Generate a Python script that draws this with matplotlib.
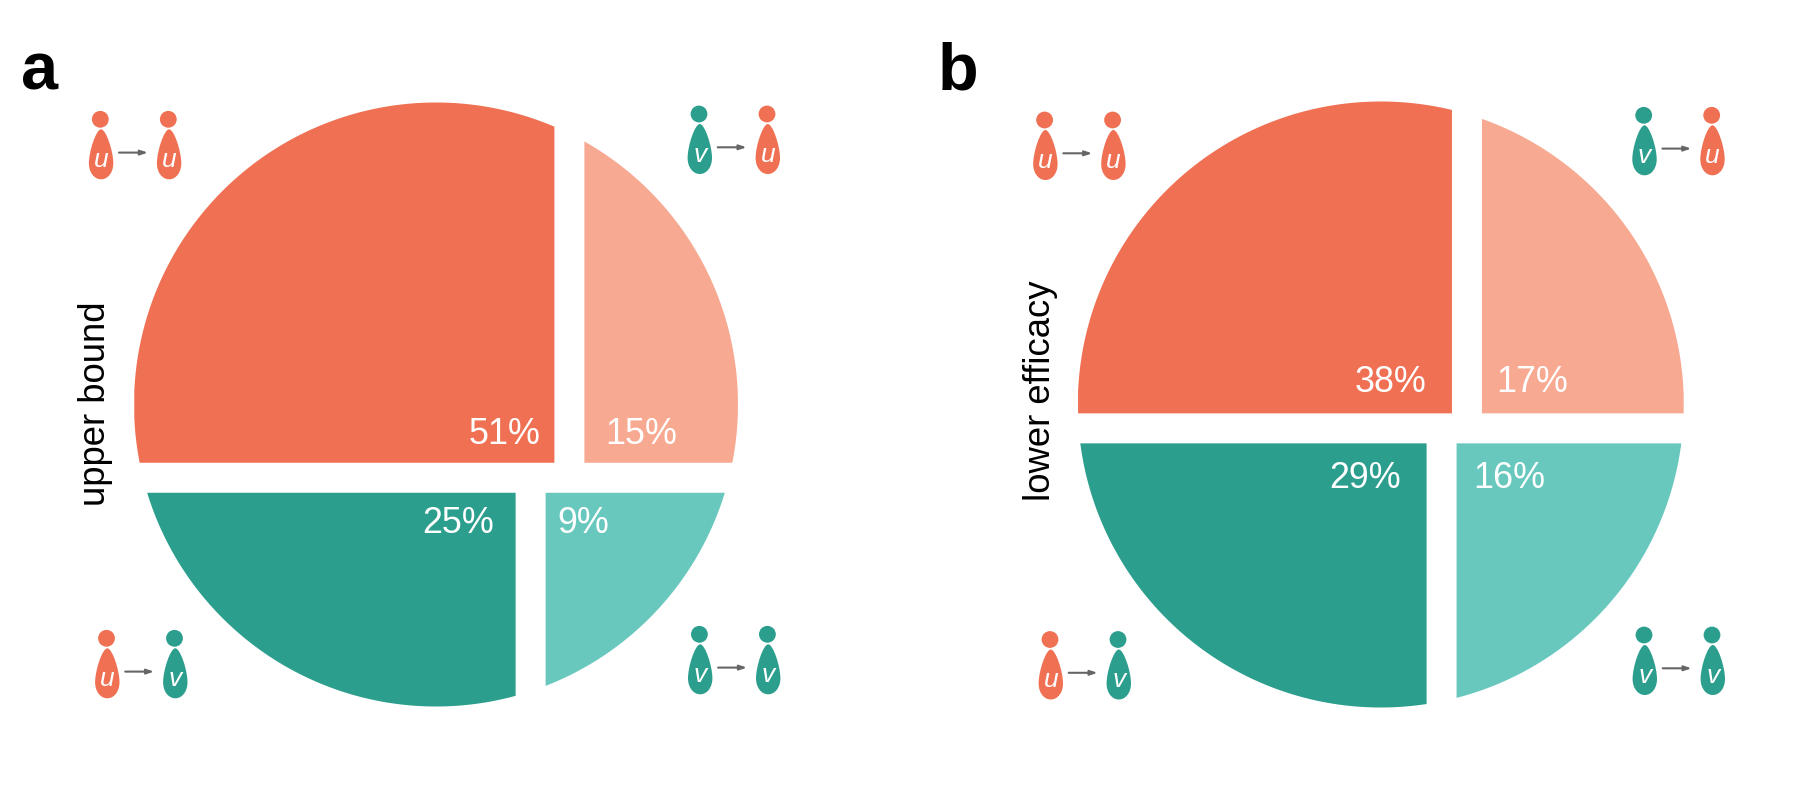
import numpy as np
import matplotlib
matplotlib.use("Agg")
import matplotlib.pyplot as plt
from matplotlib.patches import Circle, PathPatch
from matplotlib.path import Path

plt.rcParams["font.family"] = ["Liberation Sans", "DejaVu Sans"]

# shares in percent: top-left, top-right, bottom-left, bottom-right
values_a = [51, 15, 25, 9]
values_b = [38, 17, 29, 16]
row_label_a = "upper bound"
row_label_b = "lower efficacy"
panel_a = "a"
panel_b = "b"
icon_letters = [("u", "u"), ("v", "u"), ("u", "v"), ("v", "v")]

COL_U = "#F07053"
COL_U_LIGHT = "#F7A991"
COL_V = "#2C9E8E"
COL_V_LIGHT = "#68C8BE"
COL_ARROW = "#666666"
GAP = 30
FS_PCT = 25.8
FS_ROW = 26.3


def split_positions(vals):
    # area-true chord and cuts on the unit circle
    total = float(sum(vals))
    ys = np.linspace(-1, 1, 8001)
    cum = np.cumsum(2 * np.sqrt(1 - ys ** 2)) * (ys[1] - ys[0])
    y_cut = np.interp((vals[2] + vals[3]) / total * np.pi, cum, ys)

    xs = np.linspace(1, -1, 8001)
    dx = xs[0] - xs[1]
    circ = np.sqrt(1 - xs ** 2)
    top_h = np.clip(circ - np.maximum(y_cut, -circ), 0, None)
    bot_h = np.clip(np.minimum(y_cut, circ) + circ, 0, None)
    x_top = np.interp(vals[1] / total * np.pi, np.cumsum(top_h) * dx, xs)
    x_bot = np.interp(vals[3] / total * np.pi, np.cumsum(bot_h) * dx, xs)
    return y_cut, x_top, x_bot


def draw_piece(ax, cx, cy, r, x0, x1, y0, y1, color):
    # region of the circle inside the pixel box x0..x1, y0..y1
    xs = np.linspace(x0, x1, 1500)
    half = np.sqrt(np.clip(r ** 2 - (xs - cx) ** 2, 0, None))
    upper = np.maximum(cy - half, y0)
    lower = np.minimum(cy + half, y1)
    ok = lower > upper
    ax.fill_between(xs[ok], upper[ok], lower[ok], color=color, linewidth=0)


def draw_person(ax, x, y, color, letter):
    ax.add_patch(Circle((x, y), 8.4, color=color, linewidth=0))
    bx = x + 0.8
    verts = [
        (bx, y + 10), (bx + 5, y + 10), (bx + 12.2, y + 32), (bx + 12.2, y + 44),
        (bx + 12.2, y + 53), (bx + 7, y + 60), (bx, y + 60),
        (bx - 7, y + 60), (bx - 12.2, y + 53), (bx - 12.2, y + 44),
        (bx - 12.2, y + 32), (bx - 5, y + 10), (bx, y + 10),
    ]
    codes = [Path.MOVETO] + [Path.CURVE4] * 12
    ax.add_patch(PathPatch(Path(verts, codes), facecolor=color, linewidth=0))
    ax.text(bx, y + 47.7, letter, color="white", fontsize=19, style="italic",
            ha="center", va="baseline")


def draw_icon(ax, x, y, letters):
    cols = {"u": COL_U, "v": COL_V}
    draw_person(ax, x, y, cols[letters[0]], letters[0])
    draw_person(ax, x + 68, y, cols[letters[1]], letters[1])
    ax.annotate("", xy=(x + 47.6, y + 33.3), xytext=(x + 18.7, y + 33.3),
                arrowprops=dict(arrowstyle="-|>,head_length=0.42,head_width=0.14",
                                color=COL_ARROW, lw=1.5, shrinkA=0, shrinkB=0))


def draw_panel(ax, vals, cx, cy, r, nudge, label_dx, base_dy):
    y_cut, x_top, x_bot = split_positions(vals)
    # nudge: small pixel offsets where the drawn cuts sit off the exact areas
    ysplit = cy - y_cut * r + nudge[0]
    xt = cx + x_top * r + nudge[1]
    xb = cx + x_bot * r + nudge[2]
    g = GAP / 2
    top, bot = ysplit - g, ysplit + g
    draw_piece(ax, cx, cy, r, cx - r, xt - g, cy - r, top, COL_U)
    draw_piece(ax, cx, cy, r, xt + g, cx + r, cy - r, top, COL_U_LIGHT)
    draw_piece(ax, cx, cy, r, cx - r, xb - g, bot, cy + r, COL_V)
    draw_piece(ax, cx, cy, r, xb + g, cx + r, bot, cy + r, COL_V_LIGHT)

    pos = [
        (xt - g - label_dx[0], top + base_dy[0], "right"),
        (xt + g + label_dx[1], top + base_dy[0], "left"),
        (xb - g - label_dx[2], bot + base_dy[1], "right"),
        (xb + g + label_dx[3], bot + base_dy[1], "left"),
    ]
    for v, (x, y, ha) in zip(vals, pos):
        ax.text(x, y, f"{v}%", color="white", fontsize=FS_PCT, ha=ha, va="baseline")


fig = plt.figure(figsize=(18, 8), dpi=100)
ax = fig.add_axes([0, 0, 1, 1])
ax.set_xlim(0, 1800)
ax.set_ylim(800, 0)
ax.axis("off")

draw_panel(ax, values_a, 435.5, 404, 302, [-3.5, -7, -10], [13, 21, 21, 12], [-18, 41])
draw_panel(ax, values_b, 1380.3, 404, 303, [0, -8, -7], [25, 15, 25, 17], [-21, 45])

ax.text(21, 89, panel_a, fontsize=48, fontweight="bold", va="baseline", color="black")
ax.text(938, 89, panel_b, fontsize=48, fontweight="bold", va="baseline", color="black")
ax.text(105, 403.3, row_label_a, fontsize=FS_ROW, rotation=90, rotation_mode="anchor",
        ha="center", va="baseline", color="black")
ax.text(1049.5, 391, row_label_b, fontsize=FS_ROW, rotation=90, rotation_mode="anchor",
        ha="center", va="baseline", color="black")

icons_a = [(100.3, 119.3), (699, 114), (106.5, 638.3), (699.4, 634.3)]
icons_b = [(1044.6, 120), (1643.7, 115.3), (1050, 639.5), (1644, 635)]
for (x, y), letters in zip(icons_a + icons_b, icon_letters * 2):
    draw_icon(ax, x, y, letters)

fig.savefig("out.png", dpi=100)
